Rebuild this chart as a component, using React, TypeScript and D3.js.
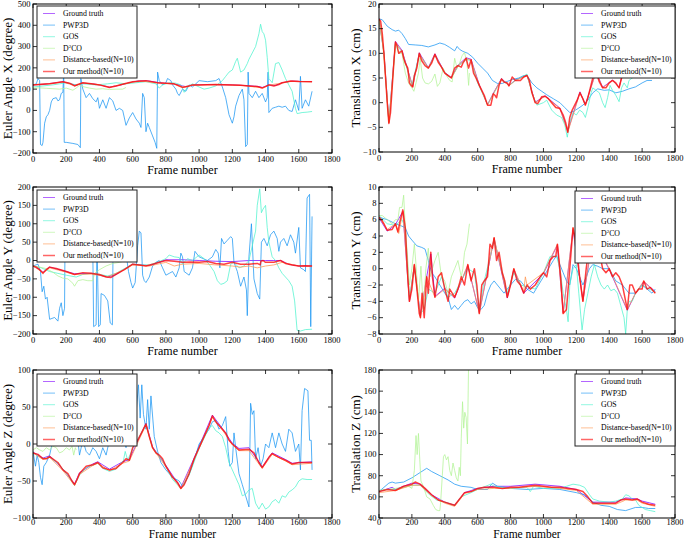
import React from 'react';
import * as d3 from 'd3';

type P = [number, number][];

const frameTicks = [0, 200, 400, 600, 800, 1000, 1200, 1400, 1600, 1800];
const seriesNames = ['Ground truth', 'PWP3D', 'GOS', 'D2CO', 'Distance-based(N=10)', 'Our method(N=10)'];
const seriesColors = ['#8000ff', '#1996f3', '#4df3ce', '#b2f396', '#ff964f', '#ff0000'];

// ---------- Euler Angle X ----------
const exGT: P = [[0,120],[60,123],[120,128],[180,135],[240,122],[260,118],[300,128],[360,125],[400,120],[460,110],[520,118],[580,130],[640,140],[700,138],[760,130],[840,125],[880,120],[900,115],[920,112],[960,120],[1060,122],[1200,120],[1300,116],[1360,112],[1380,108],[1420,120],[1460,118],[1500,130],[1560,138],[1620,136],[1680,136]];
const exPWP: P = [[0,120],[20,125],[30,150],[40,140],[45,-160],[55,-165],[60,-150],[70,-60],[80,-30],[90,-20],[100,0],[110,40],[120,55],[140,60],[150,45],[160,50],[170,80],[180,85],[185,190],[188,-150],[200,-150],[240,-155],[270,-160],[285,-175],[288,150],[300,100],[320,60],[340,80],[360,55],[380,40],[390,60],[400,10],[420,50],[440,10],[460,60],[480,45],[500,0],[520,10],[540,0],[560,-70],[580,-35],[600,-10],[620,-40],[640,-60],[650,-80],[660,80],[670,60],[680,-100],[690,-60],[700,-80],[720,-120],[735,-150],[745,-178],[750,180],[760,140],[780,120],[800,130],[810,150],[830,140],[840,120],[860,100],[870,80],[880,70],[900,100],[920,90],[940,120],[960,110],[1000,140],[1050,135],[1100,140],[1120,150],[1140,110],[1160,60],[1180,-20],[1200,-60],[1210,-30],[1220,20],[1240,70],[1260,100],[1270,50],[1280,-170],[1290,-160],[1295,180],[1300,80],[1320,60],[1340,90],[1360,60],[1380,80],[1400,40],[1410,60],[1415,180],[1420,-10],[1440,10],[1460,15],[1480,20],[1500,15],[1520,20],[1540,0],[1560,-5],[1580,50],[1600,0],[1610,160],[1620,10],[1640,50],[1660,20],[1680,90]];
const exGOS: P = [[0,110],[60,115],[120,120],[200,130],[260,120],[300,125],[380,120],[450,125],[500,130],[560,125],[620,130],[680,135],[740,125],[760,105],[780,120],[820,130],[860,128],[890,120],[910,85],[930,110],[960,125],[1000,110],[1030,100],[1060,105],[1100,115],[1140,140],[1160,160],[1180,180],[1200,190],[1220,230],[1230,245],[1250,180],[1270,190],[1290,220],[1300,240],[1320,270],[1340,300],[1360,360],[1370,405],[1380,370],[1390,360],[1400,330],[1410,250],[1420,150],[1440,130],[1460,220],[1480,225],[1500,190],[1520,150],[1540,120],[1560,90],[1580,10],[1590,-15],[1620,-10],[1650,-8],[1680,-5]];
const exD2: P = [[0,105],[40,106],[80,104],[120,102],[160,100],[200,105],[240,95],[260,105],[280,118],[300,112],[340,105],[380,100],[420,102],[460,98],[500,100],[540,100],[560,108]];
const exDist: P = [[0,121],[60,124],[120,127],[180,134],[250,116],[300,129],[400,121],[460,109],[550,124],[640,139],[750,129],[850,124],[900,110],[960,119],[1100,121],[1250,118],[1380,106],[1420,119],[1500,129],[1560,137],[1680,135]];
const exOurs: P = [[0,120],[40,122],[100,125],[180,135],[220,128],[250,115],[270,122],[300,130],[350,125],[400,120],[460,108],[500,115],[550,125],[600,135],[680,140],[750,130],[800,128],[850,125],[880,115],[900,108],[930,112],[960,120],[1000,120],[1100,122],[1200,120],[1250,118],[1300,115],[1350,112],[1380,105],[1400,112],[1420,120],[1450,115],[1480,122],[1500,130],[1550,138],[1600,136],[1680,135]];

// ---------- Translation X ----------
const txGT: P = [[0,17],[30,10.2],[60,-4],[100,12.4],[140,10.6],[205,3.3],[245,10.1],[300,7.1],[340,9.9],[400,6.1],[440,5.1],[480,7.6],[530,9.1],[560,8.8],[610,3.6],[660,-0.4],[695,1.9],[745,4.9],[790,3.5],[830,4.6],[900,5.6],[950,0.1],[1010,1.4],[1100,-1.1],[1148,-5.8],[1222,2.2],[1255,-0.4],[1320,6.3],[1360,3.1],[1420,4.6],[1460,3.1],[1475,5.1],[1540,7],[1680,7]];
const txPWP: P = [[0,17],[20,16.8],[50,15.5],[80,14.8],[100,14.5],[120,14.7],[140,14],[160,13],[180,11.8],[220,11.7],[260,11.6],[300,11.3],[340,11.7],[370,12.1],[400,11.8],[430,11.2],[460,10.5],[475,11.4],[490,10.8],[510,10.4],[540,10],[570,9.2],[600,8],[630,7],[660,6],[690,4.5],[720,3.9],[750,3.9],[780,4.3],[810,4.7],[850,5],[880,5.5],[900,5.5],[930,4],[960,3],[990,2.3],[1020,1.6],[1060,0.8],[1100,0],[1130,-1],[1160,-2],[1180,-1.8],[1210,-1.2],[1240,-0.5],[1270,0.5],[1300,2],[1330,2.8],[1370,2.5],[1400,2.6],[1440,2],[1480,2.3],[1520,2.8],[1560,3.2],[1600,4],[1630,4.5],[1660,4.5]];
const txGOS: P = [[0,16.8],[30,10],[60,-4],[100,12],[140,10.3],[200,3.5],[245,9.8],[300,7],[340,9.6],[400,6],[440,5],[480,7.3],[530,8.8],[560,8.5],[600,4],[660,-0.4],[695,1.7],[745,4.7],[790,3.5],[830,4.5],[900,5.8],[930,2],[960,-0.5],[1000,0],[1020,0.5],[1050,-1.5],[1080,-2.5],[1110,-3],[1130,-4.5],[1145,-7],[1160,-4],[1180,-2],[1200,-2.5],[1220,-1.5],[1240,-2],[1255,-3],[1270,-1],[1290,2],[1300,3],[1320,2.5],[1340,2],[1360,0],[1375,-1],[1390,1],[1405,3.5],[1420,2.5],[1440,1.5],[1460,0.2],[1475,3],[1490,4],[1510,3],[1520,4.5],[1560,5.5],[1620,6],[1680,6]];
const txD2: P = [[0,17],[20,13],[40,5],[60,-4],[80,3],[100,12],[120,10],[140,10],[160,6],[180,4],[200,3],[212,2.3],[225,4],[240,6],[250,9],[265,5],[280,4],[300,3.8],[320,4.3],[340,5.8],[355,3.3],[370,4],[390,7],[410,5.5],[430,4.5],[445,4.2],[460,9],[475,7],[490,8],[505,9.5],[520,10.2],[535,8],[545,3.5],[550,6]];
const txDist: P = [[0,16.9],[30,10.1],[60,-4.1],[100,12.2],[140,10.4],[205,3.2],[245,9.9],[300,7],[340,9.7],[400,6],[440,5],[480,7.4],[530,9],[560,8.6],[610,3.5],[660,-0.5],[695,1.8],[745,4.8],[790,3.4],[830,4.5],[900,5.5],[950,0],[1010,1.3],[1100,-1.2],[1148,-6],[1222,2],[1255,-0.5],[1320,6.2],[1360,3],[1420,4.5],[1460,3],[1475,5],[1540,7],[1680,7]];
const txOurs: P = [[0,17],[10,16.5],[20,14],[30,10],[40,5],[50,0],[60,-4.2],[70,-2],[80,3],[90,8],[100,12.3],[110,11.5],[120,10],[130,10.3],[140,10.5],[150,9],[160,8],[175,7],[185,4],[195,3.5],[205,3.2],[215,5.5],[230,7],[245,10],[260,8.5],[280,7.5],[300,7],[320,8],[340,9.8],[360,8.2],[380,7.2],[400,6],[420,5.5],[440,5],[460,7],[480,7.5],[500,7.2],[510,8],[530,9],[545,7],[560,8.7],[575,6],[590,5],[610,3.5],[640,1.5],[660,-0.5],[680,-0.5],[695,1.8],[705,1.5],[715,1],[730,3.5],[745,4.8],[760,4.2],[780,4],[790,3.4],[810,5.2],[830,4.5],[860,4.5],[880,5.2],[900,5.5],[915,4.5],[930,2],[950,0],[965,-0.2],[990,1.2],[1010,1.3],[1030,0.8],[1050,0],[1075,-1],[1100,-1.2],[1120,-2.5],[1135,-4],[1148,-6],[1160,-3],[1175,-1.5],[1190,-0.5],[1205,0.5],[1222,2],[1240,0.8],[1255,-0.5],[1270,1],[1285,3],[1300,5],[1320,6.2],[1340,4.2],[1360,3],[1380,3],[1400,4],[1420,4.5],[1440,4],[1460,3],[1475,5],[1500,6],[1540,7],[1600,6.5],[1680,7]];

// ---------- Euler Angle Y ----------
const eyGT: P = [[0,-15],[40,-25],[60,-32],[100,-18],[200,-30],[250,-36],[350,-35],[450,-45],[500,-38],[600,-10],[700,-14],[800,2],[900,2],[1000,0],[1100,-2],[1200,-3],[1300,0],[1400,0],[1450,0],[1490,0],[1540,-10],[1600,-15],[1680,-15]];
const eyPWP: P = [[0,-15],[30,-10],[45,-30],[55,-85],[65,-70],[75,-105],[85,-100],[100,-160],[130,-155],[150,-165],[160,-130],[170,-115],[180,-150],[190,-130],[195,190],[220,120],[260,80],[300,60],[340,40],[360,30],[365,-180],[380,-175],[385,60],[395,-180],[405,-175],[410,-90],[430,-95],[450,-110],[465,-170],[478,-175],[482,40],[520,30],[560,20],[575,-30],[590,-60],[600,-75],[615,-60],[630,40],[640,80],[650,75],[660,-40],[670,-55],[680,-60],[700,-45],[720,-15],[740,-5],[760,0],[780,-20],[800,-40],[820,-35],[840,-30],[860,-45],[880,-20],[890,20],[900,10],[910,-30],[940,-40],[960,-20],[975,25],[1000,10],[1050,0],[1080,10],[1100,30],[1115,20],[1125,-20],[1135,60],[1150,45],[1170,55],[1190,65],[1200,60],[1210,-5],[1230,-30],[1250,-70],[1270,-45],[1285,-80],[1290,-150],[1300,10],[1315,100],[1330,-50],[1350,-90],[1365,-105],[1375,50],[1390,60],[1410,40],[1430,70],[1450,80],[1470,60],[1480,25],[1490,50],[1510,60],[1530,40],[1550,70],[1570,50],[1580,20],[1600,90],[1610,-20],[1630,-25],[1640,-30],[1650,170],[1665,180],[1672,-180],[1680,120]];
const eyGOS: P = [[0,-15],[50,-20],[100,-30],[150,-35],[200,-40],[260,-45],[300,-38],[350,-35],[400,-38],[450,-42],[500,-35],[550,-22],[600,-10],[650,-12],[700,-12],[750,-5],[800,5],[820,15],[850,10],[880,8],[900,-10],[930,5],[960,0],[1000,15],[1030,5],[1060,-10],[1090,-30],[1110,-55],[1130,-65],[1150,-62],[1170,-55],[1190,-10],[1210,-5],[1240,-20],[1270,-15],[1300,0],[1320,40],[1340,80],[1350,150],[1365,195],[1375,130],[1385,140],[1400,150],[1410,90],[1420,50],[1440,10],[1460,0],[1480,-20],[1500,-35],[1520,-45],[1540,-55],[1560,-70],[1575,-110],[1590,-190],[1610,-192],[1640,-188],[1680,-187]];
const eyD2: P = [[0,-15],[40,-18],[80,-22],[120,-32],[150,-42],[180,-48],[210,-50],[240,-62],[250,-70],[270,-55],[300,-52],[330,-55],[360,-55],[370,-35],[400,-25],[440,-15],[480,-8],[520,-5],[560,0]];
const eyDist: P = [[0,-15],[60,-33],[100,-20],[200,-32],[250,-38],[350,-37],[450,-44],[550,-25],[600,-12],[700,-15],[800,-5],[850,-15],[900,-10],[1000,-8],[1100,-12],[1200,-15],[1250,-18],[1300,-15],[1350,-20],[1400,-15],[1450,-12],[1500,-5],[1600,-15],[1680,-16]];
const eyOurs: P = [[0,-15],[20,-18],[40,-25],[60,-35],[80,-25],[100,-18],[140,-22],[200,-30],[250,-38],[300,-33],[350,-35],[400,-38],[440,-45],[470,-46],[500,-38],[550,-25],[600,-10],[640,-12],[680,-15],[720,-10],[760,-5],[800,0],[850,-2],[900,-5],[950,-4],[1000,-5],[1050,-3],[1100,-8],[1150,-10],[1200,-5],[1250,-10],[1300,-10],[1350,-8],[1368,-12],[1372,-2],[1385,0],[1400,-5],[1450,-5],[1490,0],[1520,-8],[1560,-12],[1600,-15],[1640,-14],[1680,-15]];

// ---------- Translation Y ----------
const tyGT: P = [[0,6.2],[50,4.6],[100,5.4],[145,7],[185,-4],[215,0.4],[252,-5.8],[290,-1],[315,1.8],[340,-3.4],[400,-2.4],[460,-3.6],[540,0.4],[610,-5.4],[700,3.7],[780,-3.6],[820,-0.1],[880,-3],[1000,-0.6],[1085,2.9],[1120,-5.4],[1180,4.8],[1240,-3.9],[1300,3.8],[1400,-0.1],[1510,-5.1],[1560,-3],[1610,-1.6],[1680,-2.8]];
const tyPWP: P = [[0,6.3],[50,6],[100,5.5],[140,5.2],[160,5],[180,4],[200,3.5],[230,2.8],[260,2.6],[280,2.4],[300,1],[320,-0.5],[340,-1],[370,-2],[400,-3],[420,-3.5],[440,-5],[460,-4.5],[480,-5],[500,-4.5],[520,-4],[540,-3.8],[560,-4.3],[580,-4],[600,-4.8],[620,-5],[640,-4.5],[660,-3],[680,-2],[700,-1.5],[720,-2],[740,-2.5],[760,-3],[780,-2.5],[800,-2],[830,-1.3],[860,-1.5],[900,-2.5],[940,-3],[970,-2],[1000,-1],[1030,0],[1060,1],[1080,1.6],[1100,0.5],[1120,-0.5],[1140,-1.5],[1160,-2],[1180,0.5],[1200,0],[1220,-1],[1240,-2],[1260,-1],[1280,0],[1300,0.5],[1330,0.3],[1360,0],[1400,0],[1440,-1.5],[1480,-2],[1520,-3],[1560,-3],[1600,-2],[1630,-2.5],[1660,-3],[1680,-2.5]];
const tyGOS: P = [[0,6.5],[50,5.5],[100,5.3],[140,6],[160,5],[185,-3.5],[215,0.3],[250,-5.5],[275,-5],[300,-2.5],[340,-3],[380,-1],[420,-3.5],[460,-3],[500,-1.5],[540,0],[580,-0.5],[610,-5],[640,-1.5],[700,3.5],[750,-0.5],[780,-3],[820,-0.5],[860,-2],[900,-2.2],[950,-2.5],[1000,-0.5],[1040,1.5],[1080,1.5],[1100,0],[1120,-3],[1140,-5],[1150,-6.5],[1160,-2],[1180,0],[1200,0.5],[1215,-3],[1235,-7.5],[1250,-5],[1270,-3],[1290,-1],[1310,0.5],[1330,-1],[1350,-2],[1370,-2.5],[1390,-2],[1410,-2.7],[1430,-2.5],[1450,-3],[1470,-4.5],[1490,-6],[1500,-8],[1510,-5],[1520,-4],[1540,-4],[1560,-3],[1600,-2],[1640,-2.5],[1680,-2.8]];
const tyD2: P = [[0,6.5],[20,6.5],[50,6],[80,5.5],[100,6],[115,6],[125,7.5],[140,7.5],[150,9],[160,5],[175,1],[185,-2],[200,0],[215,3],[225,0.5],[240,-4],[255,0.3],[270,-5],[285,0],[300,2.5],[310,-1],[325,0],[340,1],[360,2],[380,-1],[400,-1.5],[420,-3],[440,-1],[460,0],[480,1],[500,-1],[510,0],[520,2],[535,3],[550,5.5]];
const tyDist: P = [[0,6.3],[50,4.8],[100,5.5],[120,4.3],[145,7],[185,-4],[215,0.5],[252,-6],[290,-1],[340,-3.5],[400,-2.5],[460,-3.5],[540,0.5],[610,-5.5],[700,3.8],[780,-3.5],[820,0],[880,-2.8],[890,-1],[900,-2],[1000,-0.5],[1085,3],[1120,-5.5],[1180,5],[1240,-4],[1300,4],[1400,0],[1510,-5],[1560,-3],[1610,-1.5],[1680,-3]];
const tyOurs: P = [[0,6.3],[15,6],[30,5.5],[50,4.7],[80,4.8],[100,5.5],[115,4.5],[130,6],[145,7.2],[160,5],[175,-1],[185,-4],[200,-2.5],[215,0.5],[228,-2],[245,-5.5],[252,-6],[262,-3],[275,-6],[290,-1],[300,-3],[315,2],[325,-1],[340,-3.5],[360,-1],[380,-0.5],[400,-2.5],[420,-4],[430,-2.5],[445,-3],[460,-3.5],[480,-2.5],[500,-1],[520,-2],[540,0.5],[560,-1.5],[580,0],[595,-2],[610,-5.5],[625,-2],[640,-1.5],[660,-1],[675,3],[690,2.5],[700,3.8],[715,1],[730,2],[750,-0.5],[765,-1.5],[780,-3.5],[800,-2],[820,0],[840,-1.5],[860,-2],[880,-3],[900,-2],[920,-2.5],[950,-2],[980,-1],[1000,-0.5],[1020,-1],[1040,1],[1060,1.5],[1075,1.5],[1085,3],[1095,1],[1105,-1],[1120,-5.5],[1140,-5],[1160,0],[1180,5],[1200,3],[1220,-1],[1240,-4],[1260,0],[1280,3],[1300,4],[1330,2],[1350,1],[1360,0],[1380,-0.5],[1400,0],[1420,-1],[1440,-0.5],[1460,-1],[1480,-2],[1500,-4],[1510,-5],[1525,-2],[1540,-2],[1560,-3],[1580,-2.5],[1600,-2.5],[1610,-1.5],[1630,-2.5],[1650,-2.3],[1680,-3]];

// ---------- Euler Angle Z ----------
const ezGT: P = [[0,-11],[60,-19],[100,-16],[180,-34],[250,-54],[280,-39],[360,-27],[390,-24],[460,-34],[540,-24],[580,-21],[680,28],[720,-4],[800,-29],[890,-59],[970,-19],[1080,39],[1140,21],[1200,1],[1240,-6],[1300,-5],[1380,-31],[1440,-12],[1520,-21],[1560,-26],[1680,-24]];
const ezPWP: P = [[0,-10],[15,-30],[25,-15],[35,-25],[45,-45],[55,-55],[65,-30],[80,-25],[100,-15],[120,5],[200,10],[270,5],[280,-15],[300,5],[320,-10],[340,-15],[360,-5],[380,-10],[400,-20],[420,-5],[440,-15],[460,5],[540,10],[560,-5],[580,20],[600,30],[620,40],[635,80],[645,35],[655,80],[665,40],[680,20],[690,60],[700,20],[710,65],[730,10],[750,-10],[770,-25],[800,-35],[840,-45],[880,-50],[900,-57],[920,-50],[950,-35],[980,-15],[1000,0],[1030,10],[1060,20],[1080,30],[1100,32],[1120,20],[1140,25],[1160,37],[1175,-10],[1185,-30],[1200,-25],[1210,15],[1220,-5],[1240,-40],[1260,-55],[1280,-70],[1300,-85],[1310,55],[1320,40],[1330,45],[1340,-20],[1355,-5],[1370,-30],[1385,-20],[1400,0],[1420,-5],[1440,15],[1460,-5],[1480,15],[1500,0],[1520,-10],[1540,20],[1560,15],[1580,-10],[1600,0],[1610,-35],[1620,45],[1635,75],[1655,72],[1665,5],[1675,5],[1680,-35]];
const ezGOS: P = [[0,-12],[60,-20],[100,-18],[150,-26],[210,-42],[250,-56],[280,-42],[320,-32],[390,-26],[420,-33],[460,-37],[500,-34],[545,-22],[555,-10],[570,-22],[600,-6],[680,26],[720,-5],[780,-22],[840,-48],[890,-60],[940,-42],[1000,-6],[1060,22],[1080,25],[1100,18],[1120,15],[1140,10],[1160,-5],[1180,-25],[1200,-35],[1220,-45],[1240,-55],[1260,-70],[1280,-68],[1300,-62],[1320,-60],[1340,-80],[1360,-88],[1380,-80],[1400,-88],[1420,-85],[1440,-78],[1460,-75],[1480,-80],[1500,-70],[1520,-72],[1540,-65],[1560,-62],[1580,-58],[1600,-50],[1620,-47],[1650,-48],[1680,-48]];
const ezD2: P = [[0,-8],[20,-5],[40,-8],[60,-10],[80,-5],[100,-8],[120,-3],[140,-5],[160,-12],[180,-10],[200,-5],[220,-8],[235,-3],[245,-15],[255,-5],[260,-8]];
const ezDist: P = [[0,-12],[60,-21],[100,-18],[180,-36],[250,-56],[280,-41],[360,-29],[390,-26],[460,-36],[540,-26],[580,-23],[680,26],[720,-6],[800,-31],[890,-61],[970,-21],[1080,36],[1140,19],[1200,-1],[1240,-9],[1300,-9],[1380,-33],[1440,-14],[1520,-23],[1560,-28],[1680,-26]];
const ezOurs: P = [[0,-12],[30,-14],[60,-20],[80,-20],[100,-17],[150,-25],[180,-35],[210,-40],[235,-50],[250,-55],[265,-48],[280,-40],[320,-30],[360,-28],[390,-25],[420,-32],[460,-35],[500,-33],[540,-25],[560,-20],[580,-22],[600,-5],[630,5],[660,18],[680,27],[700,10],[720,-5],[740,-12],[760,-15],[780,-20],[800,-30],[840,-45],[870,-52],[890,-60],[910,-55],[940,-40],[970,-20],[1000,-5],[1030,10],[1060,25],[1080,38],[1100,30],[1140,20],[1160,15],[1180,5],[1200,0],[1240,-8],[1300,-7],[1330,-12],[1360,-25],[1380,-32],[1400,-25],[1420,-18],[1440,-13],[1480,-18],[1520,-22],[1560,-27],[1600,-25],[1680,-25]];

// ---------- Translation Z ----------
const tzGT: P = [[0,65],[80,69],[100,67],[200,73],[250,72],[320,62],[400,55],[460,52],[520,64],[600,68],[700,70],[800,70],[950,72],[1100,70],[1200,67],[1300,55],[1440,55],[1500,59],[1570,58],[1600,56],[1680,53]];
const tzPWP: P = [[0,65],[30,69],[60,73],[80,74],[100,73],[150,74],[200,78],[250,83],[290,87],[320,84],[370,80],[420,76],[460,72],[500,70],[560,69],[600,67],[660,67],[690,73],[720,70],[800,68],[900,67],[1000,68],[1100,67],[1200,64],[1250,62],[1300,55],[1350,52],[1400,51],[1450,48],[1500,47],[1560,50],[1600,50],[1640,49],[1680,49]];
const tzGOS: P = [[0,66],[50,67],[100,67],[200,71],[250,71],[300,63],[350,57],[400,55],[460,52],[500,60],[560,64],[600,67],[680,72],[700,70],[800,68],[900,69],[920,65],[940,70],[1000,68],[1050,68],[1100,68],[1140,70],[1180,72],[1220,71],[1250,69],[1280,62],[1300,58],[1340,56],[1400,55],[1440,56],[1480,58],[1500,62],[1520,61],[1540,58],[1560,57],[1580,52],[1620,48],[1650,47],[1680,46]];
const tzD2: P = [[0,66],[50,67],[100,68],[150,69],[180,70],[200,68],[215,85],[225,118],[232,100],[240,120],[248,95],[255,75],[270,70],[290,60],[310,58],[330,52],[345,48],[360,47],[370,47],[375,55],[385,80],[392,98],[400,100],[410,95],[420,98],[430,85],[440,80],[450,92],[460,85],[470,78],[480,75],[488,88],[495,80],[500,115],[508,150],[515,125],[522,140],[530,135],[538,110],[545,190]];
const tzDist: P = [[0,64],[100,66],[200,71],[250,71],[320,61],[400,54],[460,51],[520,63],[600,67],[700,68],[800,68],[950,70],[1100,68],[1200,66],[1300,53],[1440,53],[1500,57],[1570,57],[1600,54],[1680,51]];
const tzOurs: P = [[0,65],[50,67],[100,66],[150,70],[200,72],[220,74],[250,72],[280,68],[320,62],[360,57],[400,55],[440,53],[460,52],[490,58],[520,64],[560,65],[600,68],[640,69],[700,69],[750,68],[800,69],[850,69],[900,70],[950,71],[1000,70],[1050,69],[1100,69],[1150,68],[1200,67],[1240,65],[1270,60],[1300,54],[1350,54],[1400,54],[1440,54],[1470,57],[1500,58],[1540,57],[1570,58],[1600,55],[1640,53],[1680,52]];

const yTicksEX = [-200, -100, 0, 100, 200, 300, 400, 500];
const yTicksTX = [-10, -5, 0, 5, 10, 15, 20];
const yTicksEY = [-200, -150, -100, -50, 0, 50, 100, 150, 200];
const yTicksTY = [-8, -6, -4, -2, 0, 2, 4, 6, 8, 10];
const yTicksEZ = [-100, -50, 0, 50, 100];
const yTicksTZ = [40, 60, 80, 100, 120, 140, 160, 180];

const FONT = '"Liberation Serif", "DejaVu Serif", serif';

type PanelProps = {
  id: string;
  x0: number; x1: number; y0: number; y1: number;
  domain: [number, number];
  ticks: number[];
  ylabel: string;
  ylabelX: number;
  xlabelDy: number;
  xlabelSize: number;
  tickDy: number;
  legendX: number; legendY: number;
  series: P[];
};

function fmt(v: number) {
  return v < 0 ? '\u2212' + Math.abs(v) : String(v);
}

function Panel(p: PanelProps) {
  const xs = d3.scaleLinear().domain([0, 1800]).range([p.x0, p.x1]);
  const ys = d3.scaleLinear().domain(p.domain).range([p.y1, p.y0]);
  const line = d3.line<[number, number]>().x(d => xs(d[0])).y(d => ys(d[1]));
  const tl = 4;
  const lw = 100, lh = 72, rowH = 11.6;
  return (
    <g>
      <defs>
        <clipPath id={'clip-' + p.id}>
          <rect x={p.x0} y={p.y0} width={p.x1 - p.x0} height={p.y1 - p.y0} />
        </clipPath>
      </defs>
      <rect x={p.x0} y={p.y0} width={p.x1 - p.x0} height={p.y1 - p.y0} fill="#fff" />
      <g clipPath={`url(#clip-${p.id})`}>
        {p.series.map((s, i) => (
          <path key={i} d={line(s) || ''} fill="none" stroke={seriesColors[i]}
            strokeWidth={i === 5 ? 1.5 : 1} strokeOpacity={0.75} strokeLinejoin="round" />
        ))}
      </g>
      {frameTicks.map(t => (
        <g key={'xt' + t}>
          <line x1={xs(t)} x2={xs(t)} y1={p.y1} y2={p.y1 - tl} stroke="#000" strokeWidth={0.8} />
          <line x1={xs(t)} x2={xs(t)} y1={p.y0} y2={p.y0 + tl} stroke="#000" strokeWidth={0.8} />
          <text x={xs(t)} y={p.y1 + p.tickDy} textAnchor="middle" fontSize={8.5} fontFamily={FONT}>{t}</text>
        </g>
      ))}
      {p.ticks.map(t => (
        <g key={'yt' + t}>
          <line x1={p.x0} x2={p.x0 + tl} y1={ys(t)} y2={ys(t)} stroke="#000" strokeWidth={0.8} />
          <line x1={p.x1} x2={p.x1 - tl} y1={ys(t)} y2={ys(t)} stroke="#000" strokeWidth={0.8} />
          <text x={p.x0 - 2.5} y={ys(t)} dy="0.33em" textAnchor="end" fontSize={8.5} fontFamily={FONT}>{fmt(t)}</text>
        </g>
      ))}
      <rect x={p.x0} y={p.y0} width={p.x1 - p.x0} height={p.y1 - p.y0} fill="none" stroke="#000" strokeWidth={1} />
      <text x={(p.x0 + p.x1) / 2} y={p.y1 + p.xlabelDy} textAnchor="middle" fontSize={p.xlabelSize} fontFamily={FONT}>Frame number</text>
      <text transform={`translate(${p.ylabelX},${(p.y0 + p.y1) / 2}) rotate(-90)`} textAnchor="middle"
        dominantBaseline="central" fontSize={13} fontFamily={FONT}>{p.ylabel}</text>
      <g>
        <rect x={p.legendX} y={p.legendY} width={lw} height={lh} fill="#fff" stroke="#222" strokeWidth={1} />
        {seriesNames.map((n, i) => {
          const cy = p.legendY + 7.5 + i * rowH;
          return (
            <g key={n}>
              <line x1={p.legendX + 6} x2={p.legendX + 18} y1={cy} y2={cy} stroke={seriesColors[i]}
                strokeOpacity={0.6} strokeWidth={i === 5 ? 1.5 : 1} />
              <text x={p.legendX + 26} y={cy} dy="0.33em" fontSize={7.8} fontFamily={FONT}>
                {n === 'D2CO' ? (
                  <>D<tspan dy={-2.8} fontSize={5}>2</tspan><tspan dy={2.8}>CO</tspan></>
                ) : n}
              </text>
            </g>
          );
        })}
      </g>
    </g>
  );
}

export default function App() {
  return (
    <svg width={685} height={540} style={{ position: 'absolute', left: 0, top: 0, background: '#fff' }}>
      <rect x={0} y={0} width={685} height={540} fill="#fff" />
      <Panel id="ex" x0={33} x1={332} y0={4} y1={153} domain={[-200, 500]} ticks={yTicksEX}
        ylabel="Euler Angle X (degree)" ylabelX={7} xlabelDy={21} xlabelSize={12} tickDy={8.5} legendX={37} legendY={6}
        series={[exGT, exPWP, exGOS, exD2, exDist, exOurs]} />
      <Panel id="tx" x0={379} x1={675} y0={4} y1={152} domain={[-10, 20]} ticks={yTicksTX}
        ylabel="Translation X (cm)" ylabelX={355} xlabelDy={21} xlabelSize={12} tickDy={8.5} legendX={575} legendY={6}
        series={[txGT, txPWP, txGOS, txD2, txDist, txOurs]} />
      <Panel id="ey" x0={33} x1={332} y0={187} y1={334} domain={[-200, 200]} ticks={yTicksEY}
        ylabel="Euler Angle Y (degree)" ylabelX={7} xlabelDy={21} xlabelSize={12} tickDy={8.5} legendX={37} legendY={190}
        series={[eyGT, eyPWP, eyGOS, eyD2, eyDist, eyOurs]} />
      <Panel id="ty" x0={379} x1={675} y0={187} y1={334} domain={[-8, 10]} ticks={yTicksTY}
        ylabel="Translation Y (cm)" ylabelX={355} xlabelDy={21} xlabelSize={12} tickDy={8.5} legendX={575} legendY={191}
        series={[tyGT, tyPWP, tyGOS, tyD2, tyDist, tyOurs]} />
      <Panel id="ez" x0={33} x1={332} y0={370} y1={518} domain={[-100, 100]} ticks={yTicksEZ}
        ylabel="Euler Angle Z (degree)" ylabelX={7} xlabelDy={19.5} xlabelSize={11.5} tickDy={7.2} legendX={37} legendY={374}
        series={[ezGT, ezPWP, ezGOS, ezD2, ezDist, ezOurs]} />
      <Panel id="tz" x0={379} x1={675} y0={370} y1={518} domain={[40, 180]} ticks={yTicksTZ}
        ylabel="Translation Z (cm)" ylabelX={355} xlabelDy={19.5} xlabelSize={11.5} tickDy={7.2} legendX={575} legendY={374}
        series={[tzGT, tzPWP, tzGOS, tzD2, tzDist, tzOurs]} />
    </svg>
  );
}
